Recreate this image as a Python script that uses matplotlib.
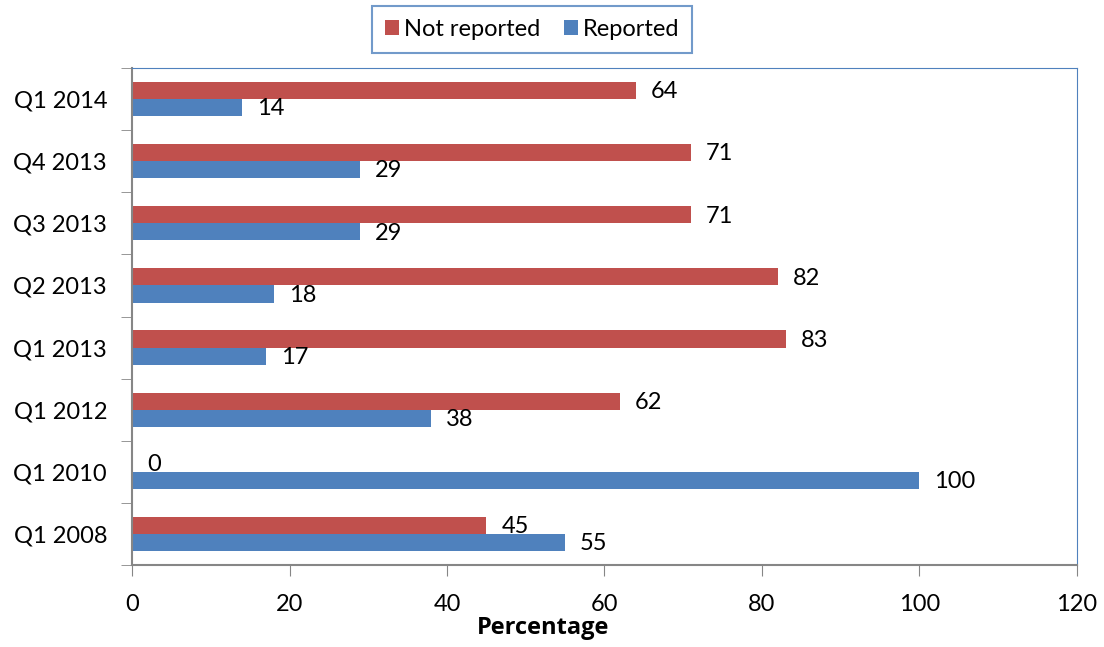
import matplotlib.pyplot as plt
import numpy as np

categories = ["Q1 2008", "Q1 2010", "Q1 2012", "Q1 2013", "Q2 2013", "Q3 2013", "Q4 2013", "Q1 2014"]
not_reported = [45, 0, 62, 83, 82, 71, 71, 64]
reported = [55, 100, 38, 17, 18, 29, 29, 14]

red = "#C0504D"
blue = "#4F81BD"
axis_grey = "#868686"

plt.rcParams["font.family"] = ["Lato", "DejaVu Sans"]

fig = plt.figure(figsize=(11.04, 6.47), dpi=100)
ax = fig.add_axes([0.1196, 0.1267, 0.8559, 0.7682])

y = np.arange(len(categories))
h = 0.275
b1 = ax.barh(y + h / 2, not_reported, height=h, color=red, label="Not reported")
b2 = ax.barh(y - h / 2, reported, height=h, color=blue, label="Reported")

for bars, vals in ((b1, not_reported), (b2, reported)):
    for rect, v in zip(bars, vals):
        ax.text(v + 1.9, rect.get_y() + rect.get_height() / 2 - 0.02, str(v),
                va="center", ha="left", fontsize=17)

ax.set_xlim(0, 120)
ax.set_ylim(-0.5, len(categories) - 0.5)
ax.set_xticks(range(0, 121, 20))
ax.set_yticks(y)
ax.set_yticklabels(categories)
ax.set_yticks(np.arange(-0.5, len(categories), 1), minor=True)
ax.tick_params(axis="y", which="major", length=0, labelsize=17, pad=18)
ax.tick_params(axis="y", which="minor", length=8, color=axis_grey, direction="out")
ax.tick_params(axis="x", length=8, color=axis_grey, labelsize=17, pad=13)

ax.spines["left"].set_color(axis_grey)
ax.spines["bottom"].set_color(axis_grey)
ax.spines["left"].set_linewidth(1.5)
ax.spines["bottom"].set_linewidth(1.5)
ax.spines["top"].set_color(blue)
ax.spines["right"].set_color(blue)

# axis title sits left of centre in the original
fig.text(0.492, 0.029, "Percentage", ha="center", va="center", fontsize=17,
         fontweight="bold", family=["Open Sans", "DejaVu Sans"])

leg = fig.legend(loc="center", bbox_to_anchor=(0.482, 0.955), ncol=2, fontsize=17,
                 frameon=True, fancybox=False, handlelength=0.6, handleheight=0.6,
                 handletextpad=0.2, columnspacing=1.0, borderpad=0.55, borderaxespad=0)
leg.get_frame().set_edgecolor(blue)
leg.get_frame().set_linewidth(1.5)

fig.savefig("out.png", dpi=100)
